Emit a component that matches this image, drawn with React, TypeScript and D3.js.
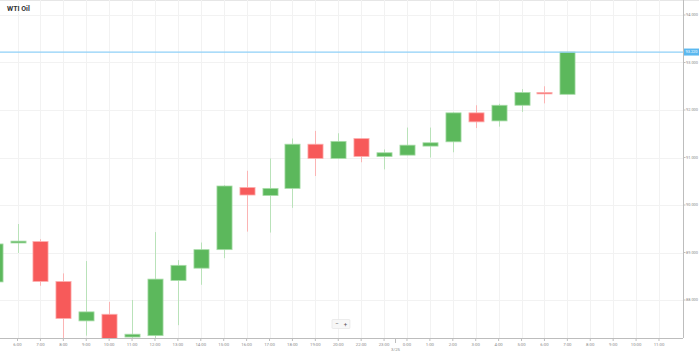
import * as d3 from "d3";

// hourly slots shown on the x axis (21:00 is the trading break)
const slotLabels = [
  "5:00", "6:00", "7:00", "8:00", "9:00", "10:00", "11:00", "12:00", "13:00", "14:00",
  "15:00", "16:00", "17:00", "18:00", "19:00", "20:00", "22:00", "23:00",
  "0:00", "1:00", "2:00", "3:00", "4:00", "5:00", "6:00", "7:00", "8:00", "9:00", "10:00", "11:00",
];

// candle values, one per slot from the first slot on
const opens = [88.38, 89.2, 89.23, 88.39, 87.56, 87.7, 87.22, 87.25, 88.41, 88.67, 89.06, 90.37, 90.2, 90.35, 91.28, 90.98, 91.4, 91.02, 91.05, 91.24, 91.33, 91.94, 91.77, 92.1, 92.37, 92.33];
const highs = [89.25, 89.6, 89.28, 88.56, 88.82, 87.96, 88.0, 89.43, 88.84, 89.21, 90.42, 90.72, 90.98, 91.4, 91.56, 91.51, 91.4, 91.17, 91.63, 91.63, 91.95, 92.1, 92.13, 92.44, 92.5, 93.22];
const lows = [88.3, 88.99, 88.3, 87.1, 87.25, 87.0, 87.1, 87.2, 87.47, 88.32, 88.88, 89.44, 89.42, 89.94, 90.61, 90.97, 90.9, 90.75, 91.05, 91.0, 91.11, 91.62, 91.65, 91.96, 92.14, 92.33];
const closes = [89.18, 89.24, 88.39, 87.61, 87.75, 87.1, 87.28, 88.44, 88.73, 89.06, 90.4, 90.21, 90.35, 91.28, 90.98, 91.34, 91.02, 91.1, 91.26, 91.31, 91.94, 91.75, 92.1, 92.37, 92.34, 93.22];

const priceTicks = [88, 89, 90, 91, 92, 93, 94];
const dateLabel = "3/25";
const title = "WTI Oil";

const W = 699;
const H = 352;
const plotRight = 683;
const plotBottom = 338;
const green = "#5cb85c";
const red = "#f75a5a";

export default function App() {
  const x = d3.scaleLinear().domain([0, 30]).range([-5.4, 681.9]);
  const y = d3.scaleLinear().domain([88, 94]).range([300, 15]);
  const step = x(1) - x(0);
  const bodyW = step * 0.66;

  const candles = opens.map((o, i) => ({
    i, o, h: highs[i], l: lows[i], c: closes[i], up: closes[i] >= o,
  }));
  const last = closes[closes.length - 1];
  const dateX = (x(17) + x(18)) / 2;

  return (
    <svg width={W} height={H} style={{ position: "absolute", left: 0, top: 0, fontFamily: "Roboto, sans-serif" }}>
      <defs>
        <clipPath id="plot">
          <rect x={0} y={0} width={plotRight} height={plotBottom} />
        </clipPath>
      </defs>
      <rect width={W} height={H} fill="#fff" />
      <line x1={0} x2={W} y1={0.5} y2={0.5} stroke="#e6e6e6" />

      {/* grid */}
      <g stroke="#f2f2f2" strokeWidth={1}>
        {slotLabels.map((_, i) => i > 0 && (
          <line key={"v" + i} x1={Math.round(x(i)) + 0.5} x2={Math.round(x(i)) + 0.5} y1={0} y2={plotBottom} />
        ))}
        {priceTicks.map((p) => (
          <line key={"h" + p} x1={0} x2={plotRight} y1={Math.round(y(p)) + 0.5} y2={Math.round(y(p)) + 0.5} />
        ))}
      </g>

      {/* candles */}
      <g clipPath="url(#plot)">
        {candles.map((d) => {
          const cx = Math.round(x(d.i)) + 0.5;
          const top = y(Math.max(d.o, d.c));
          const bot = y(Math.min(d.o, d.c));
          return (
            <g key={d.i}>
              <line x1={cx} x2={cx} y1={y(d.h)} y2={y(d.l)} stroke={d.up ? "#b9e2b9" : "#fbb4b4"} strokeWidth={1} />
              <rect x={cx - bodyW / 2} y={top} width={bodyW} height={Math.max(bot - top, 1.5)}
                fill={d.up ? green : red} stroke={d.up ? "#a8dca8" : "#fcb0b0"} strokeWidth={0.8} />
            </g>
          );
        })}
      </g>

      {/* current price line */}
      <line x1={0} x2={plotRight} y1={y(last)} y2={y(last)} stroke="#8fd0f7" strokeWidth={1.3} />

      {/* right axis */}
      <line x1={plotRight + 0.5} x2={plotRight + 0.5} y1={0} y2={plotBottom} stroke="#bdbdbd" />
      {priceTicks.map((p) => (
        <g key={"t" + p}>
          <line x1={plotRight} x2={plotRight + 2.5} y1={y(p)} y2={y(p)} stroke="#bdbdbd" />
          <text x={plotRight + 3} y={y(p)} dy="0.35em" fontSize={3.9} fill="#8a8a8a">{d3.format(".3f")(p)}</text>
        </g>
      ))}
      <rect x={plotRight + 1} y={y(last) - 3.5} width={W - plotRight - 1} height={7} fill="#5bb8ef" />
      <text x={plotRight + 2.5} y={y(last)} dy="0.35em" fontSize={3.9} fill="#fff">{d3.format(".3f")(last)}</text>

      {/* bottom axis */}
      <line x1={0} x2={plotRight} y1={plotBottom + 0.5} y2={plotBottom + 0.5} stroke="#bdbdbd" />
      {slotLabels.map((s, i) => i > 0 && (
        <g key={"x" + i}>
          <line x1={x(i)} x2={x(i)} y1={plotBottom} y2={plotBottom + 3} stroke="#bdbdbd" />
          <text x={x(i)} y={plotBottom + 6} dy="0.35em" fontSize={4.3} fill="#8a8a8a" textAnchor="middle">{s}</text>
        </g>
      ))}
      <line x1={dateX} x2={dateX} y1={plotBottom} y2={plotBottom + 5} stroke="#bdbdbd" />
      <text x={dateX} y={plotBottom + 11} dy="0.35em" fontSize={4.3} fill="#8a8a8a" textAnchor="middle">{dateLabel}</text>

      {/* zoom buttons */}
      <g>
        <rect x={332} y={319.5} width={18} height={9} fill="#f7f7f7" stroke="#e2e2e2" strokeWidth={0.6} rx={1} />
        <text x={337} y={324} dy="0.35em" fontSize={6} fill="#555" textAnchor="middle">−</text>
        <text x={345.5} y={324} dy="0.35em" fontSize={6} fill="#555" textAnchor="middle">+</text>
      </g>

      {/* title */}
      <text x={7} y={9} dy="0.35em" fontSize={7} fontWeight="bold" fill="#333">{title}</text>
    </svg>
  );
}
